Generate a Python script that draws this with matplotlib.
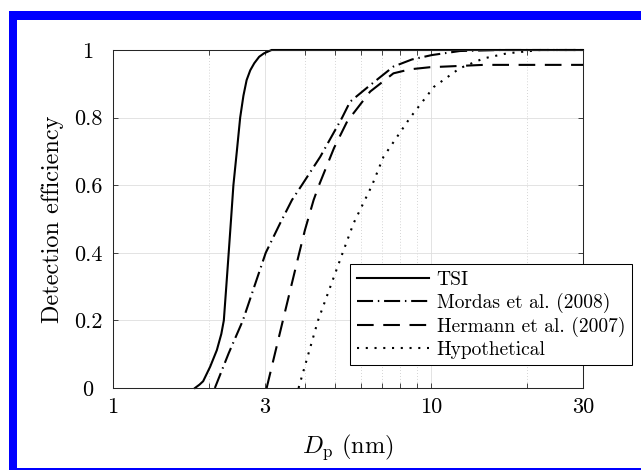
import matplotlib
matplotlib.use('Agg')
import matplotlib.pyplot as plt
from matplotlib.patches import Rectangle
from matplotlib.ticker import FixedLocator, NullFormatter

plt.rcParams['font.family'] = ['cmr10', 'DejaVu Serif']
plt.rcParams['mathtext.fontset'] = 'cm'
plt.rcParams['axes.unicode_minus'] = False
plt.rcParams['axes.formatter.use_mathtext'] = True

# ---- data (diameter in nm, detection efficiency) ----
tsi_d = [1.81, 1.87, 1.92, 2.02, 2.12, 2.19, 2.23, 2.27, 2.31, 2.35, 2.39, 2.45, 2.51,
         2.57, 2.63, 2.70, 2.78, 2.88, 2.98, 3.15, 30.0]
tsi_eff = [0.0, 0.01, 0.02, 0.063, 0.112, 0.16, 0.2, 0.3, 0.4, 0.5, 0.6, 0.7, 0.8,
           0.865, 0.911, 0.94, 0.961, 0.98, 0.99, 1.0, 1.0]

mordas_d = [2.09, 2.31, 2.56, 2.78, 3.02, 3.35, 3.65, 3.92, 4.48, 5.25, 5.56, 6.43,
            7.61, 8.7, 10.05, 12.3, 16.5, 30.0]
mordas_eff = [0.0, 0.103, 0.2, 0.3, 0.4, 0.487, 0.556, 0.6, 0.684, 0.8, 0.847, 0.896,
              0.951, 0.972, 0.985, 0.997, 1.0, 1.0]

hermann_d = [3.04, 3.42, 3.85, 4.01, 4.27, 4.44, 4.95, 5.52, 5.70, 6.43, 7.61, 8.6, 9.9,
             14.6, 30.0]
hermann_eff = [0.0, 0.2, 0.4, 0.467, 0.556, 0.6, 0.71, 0.8, 0.813, 0.877, 0.931, 0.943,
               0.949, 0.956, 0.956]

hypo_d = [3.83, 4.41, 5.27, 5.70, 6.52, 7.08, 8.59, 10.2, 12.3, 14.6, 17.3, 19.5, 22.0, 30.0]
hypo_eff = [0.0, 0.2, 0.4, 0.487, 0.6, 0.684, 0.8, 0.891, 0.946, 0.975, 0.99, 0.995, 1.0, 1.0]

series_labels = ['TSI', 'Mordas et al. (2008)', 'Hermann et al. (2007)', 'Hypothetical']

x_ticks = [1, 3, 10, 30]
x_tick_labels = ['1', '3', '10', '30']
x_minor = [2, 4, 5, 6, 7, 8, 9, 20]
y_ticks = [0, 0.2, 0.4, 0.6, 0.8, 1.0]
y_tick_labels = ['0', '0.2', '0.4', '0.6', '0.8', '1']

W, H = 641, 470
fig = plt.figure(figsize=(W / 100, H / 100), dpi=100)
fig.patch.set_facecolor('white')

ax = fig.add_axes([113 / W, (H - 388) / H, (583 - 113) / W, (388 - 50) / H])
ax.set_xscale('log')

styles = ['-', (0, (7.7, 2.3, 0.7, 2.3)), (0, (8.0, 4.6)), (0, (1.0, 3.2))]
data = [(tsi_d, tsi_eff), (mordas_d, mordas_eff), (hermann_d, hermann_eff), (hypo_d, hypo_eff)]
for (d, e), ls, lab in zip(data, styles, series_labels):
    ax.plot(d, e, color='black', lw=1.5, linestyle=ls, label=lab,
            clip_on=False, zorder=3, dash_capstyle='butt', solid_joinstyle='round')

ax.set_xlim(1, 30)
ax.set_ylim(0, 1)

ax.set_xticks(x_ticks)
ax.set_xticklabels(x_tick_labels)
ax.xaxis.set_minor_locator(FixedLocator(x_minor))
ax.xaxis.set_minor_formatter(NullFormatter())
ax.set_yticks(y_ticks)
ax.set_yticklabels(y_tick_labels)

ax.grid(True, which='major', color='0.87', lw=0.6, zorder=0)
ax.xaxis.grid(True, which='minor', color='0.78', lw=0.6, linestyle=(0, (1, 2.5)))
ax.set_axisbelow(True)

ax.tick_params(which='both', direction='in', top=True, right=True,
               length=3.5, width=0.6, color='0.15', labelsize=16)
ax.tick_params(axis='x', which='major', pad=7)
ax.tick_params(axis='y', which='major', pad=18)
for lab in ax.get_yticklabels():
    lab.set_horizontalalignment('center')

for sp in ax.spines.values():
    sp.set_color('0.15')
    sp.set_linewidth(0.75)
    sp.set_zorder(4)

ax.set_ylabel('Detection efficiency', fontsize=17.5)
ax.yaxis.set_label_coords(-0.104, 0.5)
ax.set_xlabel(r'$D_{\mathrm{p}}$ (nm)', fontsize=17.5)
ax.xaxis.set_label_coords(0.5, -0.13)

leg = ax.legend(loc='upper left', bbox_to_anchor=((350 - 113) / 470, (388 - 264) / 338),
                borderaxespad=0, fontsize=14, frameon=True, fancybox=False,
                edgecolor='black', framealpha=1, handlelength=3.7, handletextpad=0.4,
                labelspacing=0.2, borderpad=0.35)
leg.get_frame().set_linewidth(0.75)

blue = (0, 0, 1)
fig.add_artist(Rectangle((9 / W, 0), 8 / W, (H - 11) / H, transform=fig.transFigure,
                         facecolor=blue, edgecolor='none'))
fig.add_artist(Rectangle((9 / W, (H - 20) / H), (W - 9) / W, 9 / H, transform=fig.transFigure,
                         facecolor=blue, edgecolor='none'))
fig.add_artist(Rectangle((9 / W, 0), (W - 9) / W, 2 / H, transform=fig.transFigure,
                         facecolor=blue, edgecolor='none'))

fig.savefig('out.png', dpi=100)
